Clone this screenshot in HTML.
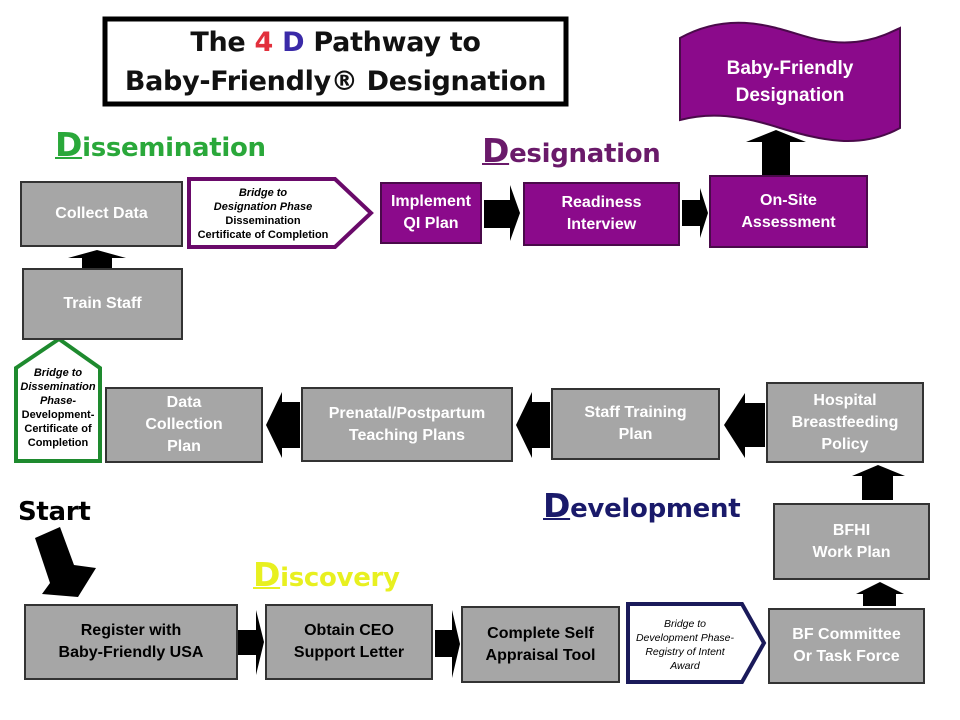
<!DOCTYPE html>
<html><head><meta charset="utf-8"><style>
body{margin:0;width:960px;height:720px;background:#fff;position:relative;overflow:hidden;font-family:"Liberation Sans",Arial,sans-serif}
.b{position:absolute;box-sizing:border-box;display:flex;align-items:center;justify-content:center;text-align:center;font-weight:bold;font-size:16px;line-height:22px}
.g{background:#a6a6a6;border:2px solid #333;color:#fff}
.p{background:#8b0a8b;border:2px solid #4a0a4a;color:#fff}
.k{background:#a6a6a6;border:2px solid #333;color:#000}
.h{position:absolute;font-family:"DejaVu Sans",sans-serif;font-weight:bold;font-size:26px;line-height:34px;letter-spacing:-0.3px}
.h u{font-size:33px;text-decoration-thickness:2px}
.br{position:absolute;font-style:italic;font-size:11px;line-height:14px;text-align:center;font-weight:bold;color:#000}
</style></head><body>
<svg width="960" height="720" style="position:absolute;left:0;top:0">
<rect x="105" y="19" width="461" height="85" fill="#fff" stroke="#000" stroke-width="5"/>
<path d="M680,38 C740,5 790,35 820,40 C860,48 885,35 900,28 L900,128 C860,150 820,140 780,128 C740,115 710,112 680,120 Z" fill="#8b0a8b" stroke="#4a0a4a" stroke-width="2"/>
<polygon points="189,179 335,179 371,213 335,247 189,247" fill="#fff" stroke="#6a0a6a" stroke-width="4"/>
<polygon points="16,368 59,339 100,368 100,461 16,461" fill="#fff" stroke="#1e8a2e" stroke-width="4"/>
<polygon points="628,604 742,604 764,643 742,682 628,682" fill="#fff" stroke="#1a1a5a" stroke-width="4"/>
<g fill="#000">
<polygon points="484,200 510,200 510,185 520,213 510,241 510,228 484,228"/>
<polygon points="682,200 700,200 700,188 708,213 700,238 700,226 682,226"/>
<polygon points="238,630 256,630 256,610 264,642 256,675 256,655 238,655"/>
<polygon points="435,630 452,630 452,610 460,644 452,678 452,657 435,657"/>
<polygon points="300,402 282,402 282,392 266,425 282,458 282,448 300,448"/>
<polygon points="550,402 532,402 532,392 516,425 532,458 532,448 550,448"/>
<polygon points="765,403 745,403 745,393 724,425 745,458 745,447 765,447"/>
<polygon points="82,268 82,258 68,258 97,250 126,258 112,258 112,268"/>
<polygon points="762,175 762,142 746,142 776,130 806,142 790,142 790,175"/>
<polygon points="862,500 862,476 852,476 878,465 905,476 893,476 893,500"/>
<polygon points="863,606 863,594 856,594 880,582 904,594 896,594 896,606"/>
<polygon points="35,538 60,527 74,565 96,568 78,597 42,594 50,583"/>
</g>
</svg>
<div style="position:absolute;left:105px;top:23px;width:461px;text-align:center;font-family:'DejaVu Sans',sans-serif;font-weight:bold;font-size:27px;line-height:39px;color:#111;letter-spacing:-0.3px">The <span style="color:#e2303c">4</span> <span style="color:#3a2aa8">D</span> Pathway to<br>Baby-Friendly® Designation</div>
<div class="b" style="left:680px;top:50px;width:220px;height:64px;color:#fff;font-size:19px;line-height:27px">Baby-Friendly<br>Designation</div>
<div class="h" style="left:55px;top:128px;color:#2aa83a"><u>D</u>issemination</div>
<div class="h" style="left:482px;top:134px;color:#6a1a6a"><u>D</u>esignation</div>
<div class="h" style="left:543px;top:489px;color:#1a1a6a"><u>D</u>evelopment</div>
<div class="h" style="left:253px;top:558px;color:#e8f020"><u>D</u>iscovery</div>
<div class="h" style="left:18px;top:495px;color:#000">Start</div>

<div class="b g" style="left:20px;top:181px;width:163px;height:66px">Collect Data</div>
<div class="b p" style="left:380px;top:182px;width:102px;height:62px">Implement<br>QI Plan</div>
<div class="b p" style="left:523px;top:182px;width:157px;height:64px">Readiness<br>Interview</div>
<div class="b p" style="left:709px;top:175px;width:159px;height:73px">On-Site<br>Assessment</div>
<div class="b g" style="left:22px;top:268px;width:161px;height:72px">Train Staff</div>
<div class="b g" style="left:105px;top:387px;width:158px;height:76px">Data<br>Collection<br>Plan</div>
<div class="b g" style="left:301px;top:387px;width:212px;height:75px">Prenatal/Postpartum<br>Teaching Plans</div>
<div class="b g" style="left:551px;top:388px;width:169px;height:72px">Staff Training<br>Plan</div>
<div class="b g" style="left:766px;top:382px;width:158px;height:81px">Hospital<br>Breastfeeding<br>Policy</div>
<div class="b g" style="left:773px;top:503px;width:157px;height:77px">BFHI<br>Work Plan</div>
<div class="b g" style="left:768px;top:608px;width:157px;height:76px">BF Committee<br>Or Task Force</div>
<div class="b k" style="left:461px;top:606px;width:159px;height:77px">Complete Self<br>Appraisal Tool</div>
<div class="b k" style="left:265px;top:604px;width:168px;height:76px">Obtain CEO<br>Support Letter</div>
<div class="b k" style="left:24px;top:604px;width:214px;height:76px">Register with<br>Baby-Friendly USA</div>

<div class="br" style="left:190px;top:186px;width:146px">Bridge to<br>Designation Phase<br><span style="font-style:normal">Dissemination<br>Certificate of Completion</span></div>
<div class="br" style="left:14px;top:366px;width:88px;font-style:normal"><i>Bridge to<br>Dissemination<br>Phase-</i><br>Development-<br>Certificate of<br>Completion</div>
<div class="br" style="left:626px;top:617px;width:118px;font-weight:normal;font-size:10.5px">Bridge to<br>Development Phase-<br>Registry of Intent<br>Award</div>
</body></html>
